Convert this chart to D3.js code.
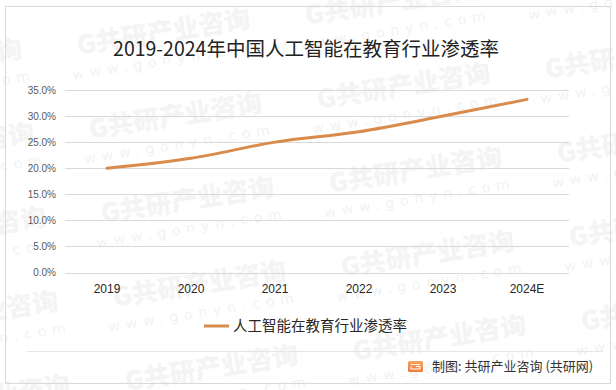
<!DOCTYPE html>
<html>
<head>
<meta charset="utf-8">
<script src="https://cdn.jsdelivr.net/npm/d3@7"></script>
<style>
  body { margin: 0; background: #fff; }
  svg { display: block; }
</style>
</head>
<body>
<svg width="616" height="390"></svg>
<script>
const years = ["2019", "2020", "2021", "2022", "2023", "2024E"];
const rate = [0.200, 0.219, 0.250, 0.270, 0.300, 0.332];
const yTicks = [0, 0.05, 0.10, 0.15, 0.20, 0.25, 0.30, 0.35];
const title = "2019-2024年中国人工智能在教育行业渗透率";
const seriesName = "人工智能在教育行业渗透率";
const source = "制图: 共研产业咨询 (共研网)";

const svg = d3.select("svg");
const width = +svg.attr("width");
const height = +svg.attr("height");
const cjk = "'Noto Sans CJK SC', 'Microsoft YaHei', sans-serif";
const lineColor = "#d98b4b";

// faint watermark tiles
const wm = svg.append("g").attr("class", "watermark");
for (let i = -1; i <= 3; i++) {
  for (let j = -2; j <= 4; j++) {
    const cx = 177 + i * 228 + j * 12;
    const cy = 125 - i * 30 + j * 84;
    const g = wm.append("g").attr("transform", `translate(${cx},${cy}) rotate(-9)`);
    g.append("text")
      .attr("text-anchor", "middle")
      .attr("font-family", cjk)
      .attr("font-weight", 900)
      .attr("font-size", 26)
      .attr("fill", "#f4f4f4")
      .text("G共研产业咨询");
    g.append("text")
      .attr("y", 24)
      .attr("text-anchor", "middle")
      .attr("font-family", "'DejaVu Sans', sans-serif")
      .attr("font-size", 14)
      .attr("letter-spacing", 6)
      .attr("fill", "#f2f2f2")
      .text("www.gonyn.com");
  }
}

// outer frame
svg.append("rect")
  .attr("x", 5.5).attr("y", 6.5)
  .attr("width", 605).attr("height", 377)
  .attr("fill", "none")
  .attr("stroke", "#d9d9d9");

svg.append("text")
  .attr("x", 306).attr("y", 56)
  .attr("text-anchor", "middle")
  .attr("font-family", cjk)
  .attr("font-size", 19.5)
  .attr("fill", "#222")
  .text(title);

const x = d3.scaleBand().domain(years).range([65, 569]);
const y = d3.scaleLinear().domain([0, 0.35]).range([272.5, 90]);

// gridlines
svg.append("g")
  .selectAll("line")
  .data(yTicks)
  .join("line")
  .attr("x1", 65).attr("x2", 569)
  .attr("y1", d => Math.round(y(d)) + 0.5)
  .attr("y2", d => Math.round(y(d)) + 0.5)
  .attr("stroke", "#d9d9d9");

// y axis labels
const yAxis = svg.append("g")
  .attr("transform", "translate(65,0)")
  .call(d3.axisLeft(y).tickValues(yTicks).tickFormat(d3.format(".1%")).tickSize(0).tickPadding(9));
yAxis.select(".domain").remove();
yAxis.selectAll("text")
  .attr("font-family", "'Liberation Sans', Arial, sans-serif")
  .attr("font-size", 10)
  .attr("fill", "#595959");

// x axis labels
const xAxis = svg.append("g")
  .attr("transform", "translate(0,272.5)")
  .call(d3.axisBottom(x).tickSize(0).tickPadding(12));
xAxis.select(".domain").remove();
xAxis.selectAll("text")
  .attr("font-family", "'Liberation Sans', Arial, sans-serif")
  .attr("font-size", 12)
  .attr("fill", "#262626");

const line = d3.line()
  .x((d, i) => x(years[i]) + x.bandwidth() / 2)
  .y(d => y(d))
  .curve(d3.curveCatmullRom.alpha(0.5));

svg.append("path")
  .datum(rate)
  .attr("d", line)
  .attr("fill", "none")
  .attr("stroke", lineColor)
  .attr("stroke-width", 3)
  .attr("stroke-linecap", "round");

// legend
svg.append("line")
  .attr("x1", 204).attr("x2", 229)
  .attr("y1", 326).attr("y2", 326)
  .attr("stroke", lineColor)
  .attr("stroke-width", 3);
svg.append("text")
  .attr("x", 233).attr("y", 331)
  .attr("font-family", cjk)
  .attr("font-size", 14.5)
  .attr("fill", "#262626")
  .text(seriesName);

// footer
svg.append("line")
  .attr("x1", 27).attr("x2", 603)
  .attr("y1", 351.5).attr("y2", 351.5)
  .attr("stroke", "#e6e6e6");

const grad = svg.append("defs").append("linearGradient")
  .attr("id", "logo").attr("x1", 0).attr("y1", 0).attr("x2", 0).attr("y2", 1);
grad.append("stop").attr("offset", 0).attr("stop-color", "#f7a35c");
grad.append("stop").attr("offset", 1).attr("stop-color", "#f27a3c");
svg.append("rect")
  .attr("x", 408).attr("y", 361)
  .attr("width", 15).attr("height", 11)
  .attr("rx", 1.5)
  .attr("fill", "url(#logo)");
svg.append("path")
  .attr("d", "M411,364.5 H420 M411,366.5 V369 H420 V366.5 H416")
  .attr("fill", "none")
  .attr("stroke", "#fff")
  .attr("stroke-width", 1.2);

svg.append("text")
  .attr("x", 432).attr("y", 371)
  .attr("font-family", cjk)
  .attr("font-size", 13)
  .attr("fill", "#333")
  .text(source);
</script>
</body>
</html>
